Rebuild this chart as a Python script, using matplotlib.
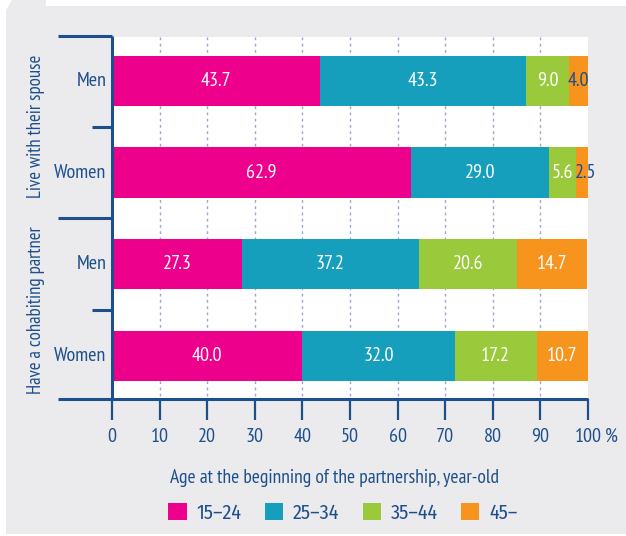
import matplotlib
matplotlib.use("Agg")
import matplotlib.pyplot as plt
from matplotlib.patches import Polygon, Rectangle
import numpy as np

plt.rcParams['font.family'] = ['PT Sans Narrow', 'DejaVu Sans']

rows = ['Men', 'Women', 'Men', 'Women']
groups = ['Live with their spouse', 'Have a cohabiting partner']
age_bands = ['15\u201324', '25\u201334', '35\u201344', '45\u2013']
v_15_24 = [43.7, 62.9, 27.3, 40.0]
v_25_34 = [43.3, 29.0, 37.2, 32.0]
v_35_44 = [9.0, 5.6, 20.6, 17.2]
v_45 = [4.0, 2.5, 14.7, 10.7]
xticks = [0, 10, 20, 30, 40, 50, 60, 70, 80, 90, 100]

colors = ['#ec008c', '#169fbd', '#9bc93c', '#f7941d']
navy = '#1d4f8c'
W, H = 626, 536
fs = 14.5

fig = plt.figure(figsize=(W / 100, H / 100), dpi=100)
fig.patch.set_facecolor('white')

# grey panel with the little tab at the top left
pts = [(6, 534), (626, 534), (626, 6), (46, 6), (46, 0), (12, 0), (6, 10)]
fig.patches.append(Polygon([(x / W, 1 - y / H) for x, y in pts], closed=True,
                           transform=fig.transFigure, facecolor='#ebebed',
                           edgecolor='none', zorder=-10))

ax = fig.add_axes([112 / W, 1 - 399 / H, 476 / W, 362 / H])
ax.set_facecolor('white')

y = np.arange(len(rows))
series = [v_15_24, v_25_34, v_35_44, v_45]
left = np.zeros(len(rows))
for vals, c in zip(series, colors):
    vals = np.array(vals)
    ax.barh(y, vals, left=left, height=0.55, color=c, edgecolor='none', zorder=3)
    for yi, l, v in zip(y, left, vals):
        tc = navy if v < 5 and c == colors[3] else 'white'
        if v < 3:
            ax.text(l - 0.2, yi, f'{v:.1f}', ha='left', va='center',
                    color=tc, fontsize=fs, zorder=4)
        else:
            ax.text(l + v / 2, yi, f'{v:.1f}', ha='center', va='center',
                    color=tc, fontsize=fs, zorder=4)
    left += vals

ax.vlines(xticks[1:-1], -0.48, 3.47, colors='#9aa8cc', linewidth=1,
          linestyles=(0, (2, 2.5)), zorder=1)

ax.set_xlim(0, 100)
ax.set_ylim(3.47, -0.48)
for s in ax.spines.values():
    s.set_visible(False)

ax.set_xticks(xticks)
ax.set_xticklabels([str(t) for t in xticks])
ax.tick_params(axis='x', length=15, width=1.6, color=navy, labelcolor=navy,
               labelsize=fs, pad=6)
ax.set_yticks([])
fig.text(605 / W, 1 - 437 / H, '%', ha='left', va='center', color=navy, fontsize=fs)

# axis lines
tr = ax.get_yaxis_transform()
ax.plot([-0.1134, 1], [3.47, 3.47], transform=tr, color=navy, lw=2.2,
        clip_on=False, zorder=5, solid_capstyle='butt')
ax.plot([0, 0], [-0.49, 3.47], transform=tr, color=navy, lw=2.2,
        clip_on=False, zorder=5, solid_capstyle='butt')
for yy in [-0.49, 1.5]:
    ax.plot([-0.1134, 0], [yy, yy], transform=tr, color=navy, lw=2.2,
            clip_on=False, zorder=5, solid_capstyle='butt')
for yy in [0.5, 2.5]:
    ax.plot([-0.042, 0], [yy, yy], transform=tr, color=navy, lw=2.2,
            clip_on=False, zorder=5, solid_capstyle='butt')

for yi, r in zip(y, rows):
    ax.text(-0.012, yi, r, transform=tr, ha='right', va='center',
            color=navy, fontsize=fs)
for gi, g in enumerate(groups):
    ax.text(-0.16, 2 * gi + 0.5, g, transform=tr, ha='center', va='center',
            rotation=90, color=navy, fontsize=13.5)

fig.text(335 / W, 1 - 478 / H, 'Age at the beginning of the partnership, year-old',
         ha='center', va='center', color=navy, fontsize=14)

handles = [Rectangle((0, 0), 1, 1, facecolor=c, edgecolor='none') for c in colors]
leg = fig.legend(handles, age_bands, loc='center', bbox_to_anchor=(343 / W, 1 - 513 / H),
                 ncol=4, frameon=False, handlelength=0.9,
                 handleheight=0.9, handletextpad=0.5, columnspacing=1.15,
                 prop={'family': ['Fira Sans Condensed', 'DejaVu Sans'], 'size': fs})
for t in leg.get_texts():
    t.set_color(navy)

fig.savefig('out.png', dpi=100)
